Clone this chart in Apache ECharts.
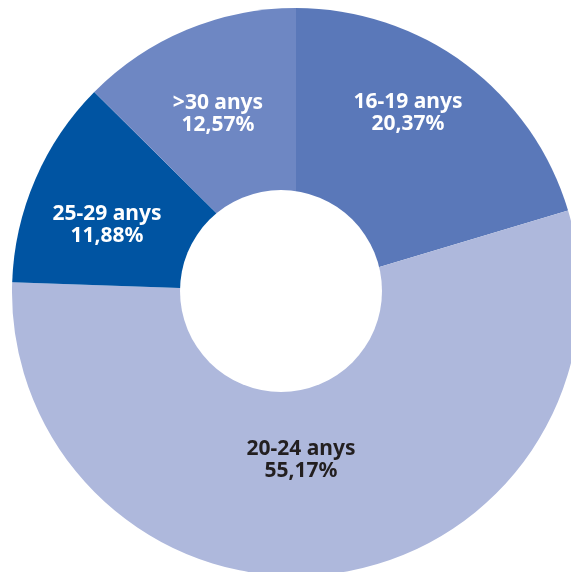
<!DOCTYPE html>
<html>
<head>
<meta charset="utf-8">
<script src="https://cdn.jsdelivr.net/npm/echarts@6/dist/echarts.min.js"></script>
<style>
html,body{margin:0;padding:0;background:#fff;}
#c{width:571px;height:572px;}
</style>
</head>
<body>
<div id="c"></div>
<script>
// Data
var categories = ['16-19 anys', '20-24 anys', '25-29 anys', '>30 anys'];
var values = [20.37, 55.17, 11.88, 12.57];
var valueLabels = ['20,37%', '55,17%', '11,88%', '12,57%'];

// Styling / layout (not data)
var colors = ['#5a78b9', '#aeb8dc', '#0054a2', '#6e87c3'];
var textColors = ['#ffffff', '#231f20', '#ffffff', '#ffffff'];
var labelPos = [[408, 113], [301, 460], [107, 225], [218, 114]];

var chart = echarts.init(document.getElementById('c'), null, {renderer: 'canvas'});
var data = categories.map(function (c, i) {
  return {
    name: c,
    value: values[i],
    itemStyle: {color: colors[i]},
    label: {color: textColors[i]}
  };
});
chart.setOption({
  animation: false,
  series: [{
    type: 'pie',
    center: [296, 292],
    radius: [0, 284],
    startAngle: 90,
    clockwise: true,
    data: data,
    itemStyle: {borderWidth: 0},
    emphasis: {disabled: true},
    label: {
      show: true,
      position: 'inside',
      fontFamily: 'Noto Sans',
      fontWeight: 'bold',
      fontSize: 21,
      lineHeight: 22,
      align: 'center',
      verticalAlign: 'middle',
      formatter: function (p) { return p.name + '\n' + valueLabels[p.dataIndex]; }
    },
    labelLine: {show: false},
    labelLayout: function (p) {
      var pos = labelPos[p.dataIndex];
      return {x: pos[0], y: pos[1]};
    }
  }],
  graphic: [{
    type: 'circle',
    shape: {cx: 281, cy: 291, r: 101},
    style: {fill: '#ffffff'},
    z: 10
  }]
});
</script>
</body>
</html>
